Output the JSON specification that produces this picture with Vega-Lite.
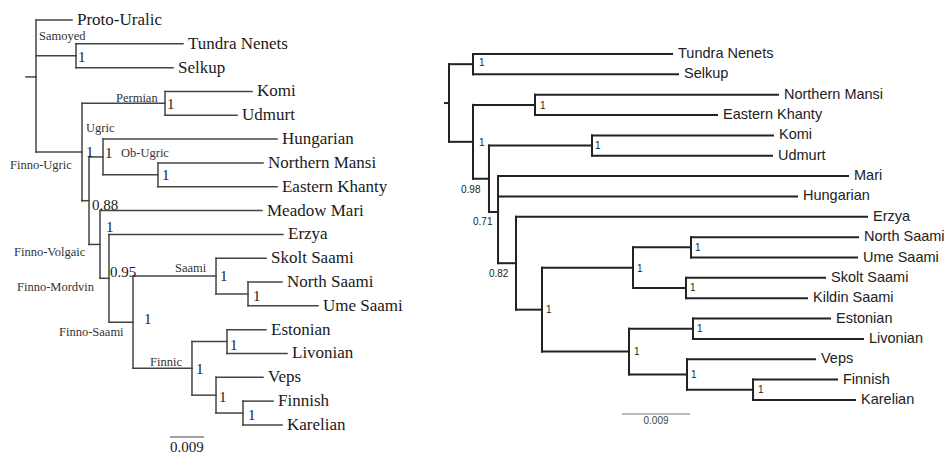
{
  "$schema": "https://vega.github.io/schema/vega-lite/v6.json",
  "autosize": {"type": "pad"},
  "padding": 0,
  "spacing": 0,
  "bounds": "flush",
  "background": "white",
  "config": {"view": {"stroke": null}},
  "resolve": {"scale": {"x": "independent", "y": "independent"}},
  "datasets": {
    "leftTree": [
      {"node": "root", "pd": -2.65, "d": 0, "i": 3.39, "lo": 1, "hi": 6.543},
      {"node": "Proto-Uralic", "pd": 0, "d": 9.53, "i": 1},
      {"node": "Samoyed", "pd": 0, "d": 10.59, "i": 2.5, "lo": 2, "hi": 3},
      {"node": "Tundra Nenets", "pd": 10.59, "d": 38.91, "i": 2},
      {"node": "Selkup", "pd": 10.59, "d": 36.26, "i": 3},
      {"node": "Finno-Ugric", "pd": 0, "d": 12.18, "i": 6.543, "lo": 4.5, "hi": 8.586},
      {"node": "Permian", "pd": 12.18, "d": 34.15, "i": 4.5, "lo": 4, "hi": 5},
      {"node": "Komi", "pd": 34.15, "d": 57.18, "i": 4},
      {"node": "Udmurt", "pd": 34.15, "d": 53.21, "i": 5},
      {"node": "Ugric and Finno-Volgaic", "pd": 12.18, "d": 14.03, "i": 8.586, "lo": 6.75, "hi": 10.422},
      {"node": "Ugric", "pd": 14.03, "d": 17.74, "i": 6.75, "lo": 6, "hi": 7.5},
      {"node": "Hungarian", "pd": 17.74, "d": 63.79, "i": 6},
      {"node": "Ob-Ugric", "pd": 17.74, "d": 32.29, "i": 7.5, "lo": 7, "hi": 8},
      {"node": "Northern Mansi", "pd": 32.29, "d": 60.09, "i": 7},
      {"node": "Eastern Khanty", "pd": 32.29, "d": 63.79, "i": 8},
      {"node": "Finno-Volgaic", "pd": 14.03, "d": 16.94, "i": 10.422, "lo": 9, "hi": 11.844},
      {"node": "Meadow Mari", "pd": 16.94, "d": 59.82, "i": 9},
      {"node": "Finno-Mordvin", "pd": 16.94, "d": 19.32, "i": 11.844, "lo": 10, "hi": 13.688},
      {"node": "Erzya", "pd": 19.32, "d": 65.38, "i": 10},
      {"node": "Finno-Saami", "pd": 19.32, "d": 25.68, "i": 13.688, "lo": 11.75, "hi": 15.625},
      {"node": "Saami", "pd": 25.68, "d": 47.65, "i": 11.75, "lo": 11, "hi": 12.5},
      {"node": "Skolt Saami", "pd": 47.65, "d": 60.88, "i": 11},
      {"node": "North and Ume Saami", "pd": 47.65, "d": 56.12, "i": 12.5, "lo": 12, "hi": 13},
      {"node": "North Saami", "pd": 56.12, "d": 65.12, "i": 12},
      {"node": "Ume Saami", "pd": 56.12, "d": 74.65, "i": 13},
      {"node": "Finnic", "pd": 25.68, "d": 41.29, "i": 15.625, "lo": 14.5, "hi": 16.75},
      {"node": "Estonian and Livonian", "pd": 41.29, "d": 50.56, "i": 14.5, "lo": 14, "hi": 15},
      {"node": "Estonian", "pd": 50.56, "d": 60.88, "i": 14},
      {"node": "Livonian", "pd": 50.56, "d": 66.44, "i": 15},
      {"node": "Veps, Finnish and Karelian", "pd": 41.29, "d": 47.65, "i": 16.75, "lo": 16, "hi": 17.5},
      {"node": "Veps", "pd": 47.65, "d": 60.09, "i": 16},
      {"node": "Finnish and Karelian", "pd": 47.65, "d": 54.79, "i": 17.5, "lo": 17, "hi": 18},
      {"node": "Finnish", "pd": 54.79, "d": 62.74, "i": 17},
      {"node": "Karelian", "pd": 54.79, "d": 65.12, "i": 18}
    ],
    "leftSupport": [
      {"p": "1", "d": 11.12, "i": 2.553},
      {"p": "1", "d": 34.68, "i": 4.526},
      {"p": "1", "d": 13.24, "i": 6.542},
      {"p": "1", "d": 18.26, "i": 6.584},
      {"p": "1", "d": 33.35, "i": 7.507},
      {"p": "0.88", "d": 14.82, "i": 8.767},
      {"p": "1", "d": 18.53, "i": 9.69},
      {"p": "0.95", "d": 19.59, "i": 11.579},
      {"p": "1", "d": 48.71, "i": 11.747},
      {"p": "1", "d": 57.44, "i": 12.587},
      {"p": "1", "d": 28.59, "i": 13.552},
      {"p": "1", "d": 51.35, "i": 14.644},
      {"p": "1", "d": 42.35, "i": 15.652},
      {"p": "1", "d": 48.44, "i": 16.827},
      {"p": "1", "d": 56.12, "i": 17.583}
    ],
    "leftClades": [
      {"clade": "Samoyed", "d": 0.79, "i": 1.672},
      {"clade": "Permian", "d": 21.18, "i": 4.275},
      {"clade": "Ugric", "d": 13.24, "i": 5.534},
      {"clade": "Ob-Ugric", "d": 22.5, "i": 6.584},
      {"clade": "Finno-Ugric", "d": -6.88, "i": 7.087},
      {"clade": "Finno-Volgaic", "d": -5.82, "i": 10.74},
      {"clade": "Finno-Mordvin", "d": -5.03, "i": 12.209},
      {"clade": "Saami", "d": 36.79, "i": 11.411},
      {"clade": "Finno-Saami", "d": 6.09, "i": 14.098},
      {"clade": "Finnic", "d": 30.18, "i": 15.358}
    ],
    "leftScale": [
      {"d": 35.47, "d2": 44.47, "dm": 39.97, "i": 18.506, "label": "0.009"}
    ],
    "rightTree": [
      {"node": "root", "pd": -0.53, "d": 0, "i": 3.41, "lo": 1.5, "hi": 5.316},
      {"node": "Samoyed", "pd": 0, "d": 3.18, "i": 1.5, "lo": 1, "hi": 2},
      {"node": "Tundra Nenets", "pd": 3.18, "d": 29.52, "i": 1},
      {"node": "Selkup", "pd": 3.18, "d": 30.31, "i": 2},
      {"node": "Finno-Ugric", "pd": 0, "d": 3.18, "i": 5.316, "lo": 3.5, "hi": 7.13},
      {"node": "Ob-Ugric", "pd": 3.18, "d": 11.38, "i": 3.5, "lo": 3, "hi": 4},
      {"node": "Northern Mansi", "pd": 11.38, "d": 43.54, "i": 3},
      {"node": "Eastern Khanty", "pd": 11.38, "d": 35.47, "i": 4},
      {"node": "Permian and western branches", "pd": 3.18, "d": 5.29, "i": 7.13, "lo": 5.5, "hi": 8.764},
      {"node": "Permian", "pd": 5.29, "d": 18.93, "i": 5.5, "lo": 5, "hi": 6},
      {"node": "Komi", "pd": 18.93, "d": 42.88, "i": 5},
      {"node": "Udmurt", "pd": 18.93, "d": 42.75, "i": 6},
      {"node": "Mari, Hungarian and western branches", "pd": 5.29, "d": 6.49, "i": 8.764, "lo": 7, "hi": 11.28},
      {"node": "Mari", "pd": 6.49, "d": 52.81, "i": 7},
      {"node": "Hungarian", "pd": 6.49, "d": 46.06, "i": 8},
      {"node": "Finno-Mordvin", "pd": 6.49, "d": 8.87, "i": 11.28, "lo": 9, "hi": 13.563},
      {"node": "Erzya", "pd": 8.87, "d": 55.32, "i": 9},
      {"node": "Finno-Saami", "pd": 8.87, "d": 12.31, "i": 13.563, "lo": 11.5, "hi": 15.625},
      {"node": "Saami", "pd": 12.31, "d": 24.35, "i": 11.5, "lo": 10.5, "hi": 12.5},
      {"node": "North and Ume Saami", "pd": 24.35, "d": 32.03, "i": 10.5, "lo": 10, "hi": 11},
      {"node": "North Saami", "pd": 32.03, "d": 54.13, "i": 10},
      {"node": "Ume Saami", "pd": 32.03, "d": 54.0, "i": 11},
      {"node": "Skolt and Kildin Saami", "pd": 24.35, "d": 31.37, "i": 12.5, "lo": 12, "hi": 13},
      {"node": "Skolt Saami", "pd": 31.37, "d": 49.77, "i": 12},
      {"node": "Kildin Saami", "pd": 31.37, "d": 47.38, "i": 13},
      {"node": "Finnic", "pd": 12.31, "d": 23.82, "i": 15.625, "lo": 14.5, "hi": 16.75},
      {"node": "Estonian and Livonian", "pd": 23.82, "d": 32.29, "i": 14.5, "lo": 14, "hi": 15},
      {"node": "Estonian", "pd": 32.29, "d": 50.43, "i": 14},
      {"node": "Livonian", "pd": 32.29, "d": 54.79, "i": 15},
      {"node": "Veps, Finnish and Karelian", "pd": 23.82, "d": 31.5, "i": 16.75, "lo": 16, "hi": 17.5},
      {"node": "Veps", "pd": 31.5, "d": 48.44, "i": 16},
      {"node": "Finnish and Karelian", "pd": 31.5, "d": 40.24, "i": 17.5, "lo": 17, "hi": 18},
      {"node": "Finnish", "pd": 40.24, "d": 51.35, "i": 17},
      {"node": "Karelian", "pd": 40.24, "d": 53.74, "i": 18}
    ],
    "rightSupport": [
      {"p": "1", "d": 3.97, "i": 1.442},
      {"p": "1", "d": 12.04, "i": 3.555},
      {"p": "1", "d": 3.97, "i": 5.373},
      {"p": "1", "d": 19.32, "i": 5.521},
      {"p": "0.98", "d": 1.59, "i": 7.683},
      {"p": "0.71", "d": 3.18, "i": 9.256},
      {"p": "0.82", "d": 5.29, "i": 11.811},
      {"p": "1", "d": 12.84, "i": 13.58},
      {"p": "1", "d": 24.88, "i": 11.565},
      {"p": "1", "d": 32.56, "i": 10.533},
      {"p": "1", "d": 31.9, "i": 12.499},
      {"p": "1", "d": 24.49, "i": 15.644},
      {"p": "1", "d": 32.82, "i": 14.514},
      {"p": "1", "d": 32.03, "i": 16.774},
      {"p": "1", "d": 40.9, "i": 17.511}
    ],
    "rightScale": [
      {"d": 22.9, "d2": 31.9, "dm": 27.4, "i": 18.69, "label": "0.009"}
    ]
  },
  "hconcat": [
    {
      "width": 440,
      "height": 455,
      "layer": [
        {
          "data": {"name": "leftTree"},
          "mark": {"type": "rule", "color": "#444444", "strokeWidth": 1.5, "strokeCap": "square"},
          "encoding": {
            "x": {"field": "pd", "type": "quantitative", "scale": {"domain": [-9.529, 106.94], "nice": false, "zero": false}, "axis": null},
            "x2": {"field": "d"},
            "y": {"field": "i", "type": "quantitative", "scale": {"domain": [0.1604, 19.262], "nice": false, "zero": false, "reverse": true}, "axis": null}
          }
        },
        {
          "data": {"name": "leftTree"},
          "transform": [{"filter": "isValid(datum.lo)"}],
          "mark": {"type": "rule", "color": "#444444", "strokeWidth": 1.5, "strokeCap": "square"},
          "encoding": {
            "x": {"field": "d", "type": "quantitative", "scale": {"domain": [-9.529, 106.94], "nice": false, "zero": false}, "axis": null},
            "y": {"field": "lo", "type": "quantitative", "scale": {"domain": [0.1604, 19.262], "nice": false, "zero": false, "reverse": true}, "axis": null},
            "y2": {"field": "hi"}
          }
        },
        {
          "data": {"name": "leftTree"},
          "transform": [{"filter": "!isValid(datum.lo)"}],
          "mark": {"type": "text", "align": "left", "baseline": "middle", "dx": 5, "font": "Liberation Serif", "fontSize": 17, "color": "#1a1a1a"},
          "encoding": {
            "x": {"field": "d", "type": "quantitative", "scale": {"domain": [-9.529, 106.94], "nice": false, "zero": false}, "axis": null},
            "y": {"field": "i", "type": "quantitative", "scale": {"domain": [0.1604, 19.262], "nice": false, "zero": false, "reverse": true}, "axis": null},
            "text": {"field": "node"}
          }
        },
        {
          "data": {"name": "leftSupport"},
          "mark": {"type": "text", "align": "left", "baseline": "middle", "font": "Liberation Serif", "fontSize": 15, "color": "#1a1a1a"},
          "encoding": {
            "x": {"field": "d", "type": "quantitative", "scale": {"domain": [-9.529, 106.94], "nice": false, "zero": false}, "axis": null},
            "y": {"field": "i", "type": "quantitative", "scale": {"domain": [0.1604, 19.262], "nice": false, "zero": false, "reverse": true}, "axis": null},
            "text": {"field": "p"}
          }
        },
        {
          "data": {"name": "leftClades"},
          "mark": {"type": "text", "align": "left", "baseline": "middle", "font": "Liberation Serif", "fontSize": 12.5, "color": "#333333"},
          "encoding": {
            "x": {"field": "d", "type": "quantitative", "scale": {"domain": [-9.529, 106.94], "nice": false, "zero": false}, "axis": null},
            "y": {"field": "i", "type": "quantitative", "scale": {"domain": [0.1604, 19.262], "nice": false, "zero": false, "reverse": true}, "axis": null},
            "text": {"field": "clade"}
          }
        },
        {
          "data": {"name": "leftScale"},
          "mark": {"type": "rule", "color": "#444444", "strokeWidth": 1},
          "encoding": {
            "x": {"field": "d", "type": "quantitative", "scale": {"domain": [-9.529, 106.94], "nice": false, "zero": false}, "axis": null},
            "x2": {"field": "d2"},
            "y": {"field": "i", "type": "quantitative", "scale": {"domain": [0.1604, 19.262], "nice": false, "zero": false, "reverse": true}, "axis": null}
          }
        },
        {
          "data": {"name": "leftScale"},
          "mark": {"type": "text", "align": "center", "baseline": "middle", "dy": 10, "font": "Liberation Serif", "fontSize": 15, "color": "#1a1a1a"},
          "encoding": {
            "x": {"field": "dm", "type": "quantitative", "scale": {"domain": [-9.529, 106.94], "nice": false, "zero": false}, "axis": null},
            "y": {"field": "i", "type": "quantitative", "scale": {"domain": [0.1604, 19.262], "nice": false, "zero": false, "reverse": true}, "axis": null},
            "text": {"field": "label"}
          }
        }
      ]
    },
    {
      "width": 511,
      "height": 455,
      "layer": [
        {
          "data": {"name": "rightTree"},
          "mark": {"type": "rule", "color": "#222222", "strokeWidth": 2, "strokeCap": "square"},
          "encoding": {
            "x": {"field": "pd", "type": "quantitative", "scale": {"domain": [-1.191, 66.441], "nice": false, "zero": false}, "axis": null},
            "x2": {"field": "d"},
            "y": {"field": "i", "type": "quantitative", "scale": {"domain": [-1.6536, 20.705], "nice": false, "zero": false, "reverse": true}, "axis": null}
          }
        },
        {
          "data": {"name": "rightTree"},
          "transform": [{"filter": "isValid(datum.lo)"}],
          "mark": {"type": "rule", "color": "#222222", "strokeWidth": 2, "strokeCap": "square"},
          "encoding": {
            "x": {"field": "d", "type": "quantitative", "scale": {"domain": [-1.191, 66.441], "nice": false, "zero": false}, "axis": null},
            "y": {"field": "lo", "type": "quantitative", "scale": {"domain": [-1.6536, 20.705], "nice": false, "zero": false, "reverse": true}, "axis": null},
            "y2": {"field": "hi"}
          }
        },
        {
          "data": {"name": "rightTree"},
          "transform": [{"filter": "!isValid(datum.lo)"}],
          "mark": {"type": "text", "align": "left", "baseline": "middle", "dx": 6, "font": "Liberation Sans", "fontSize": 14.5, "color": "#222222"},
          "encoding": {
            "x": {"field": "d", "type": "quantitative", "scale": {"domain": [-1.191, 66.441], "nice": false, "zero": false}, "axis": null},
            "y": {"field": "i", "type": "quantitative", "scale": {"domain": [-1.6536, 20.705], "nice": false, "zero": false, "reverse": true}, "axis": null},
            "text": {"field": "node"}
          }
        },
        {
          "data": {"name": "rightSupport"},
          "mark": {"type": "text", "align": "left", "baseline": "middle", "font": "Liberation Sans", "fontSize": 10, "color": "#222222"},
          "encoding": {
            "x": {"field": "d", "type": "quantitative", "scale": {"domain": [-1.191, 66.441], "nice": false, "zero": false}, "axis": null},
            "y": {"field": "i", "type": "quantitative", "scale": {"domain": [-1.6536, 20.705], "nice": false, "zero": false, "reverse": true}, "axis": null},
            "text": {"field": "p"}
          }
        },
        {
          "data": {"name": "rightScale"},
          "mark": {"type": "rule", "color": "#777777", "strokeWidth": 1},
          "encoding": {
            "x": {"field": "d", "type": "quantitative", "scale": {"domain": [-1.191, 66.441], "nice": false, "zero": false}, "axis": null},
            "x2": {"field": "d2"},
            "y": {"field": "i", "type": "quantitative", "scale": {"domain": [-1.6536, 20.705], "nice": false, "zero": false, "reverse": true}, "axis": null}
          }
        },
        {
          "data": {"name": "rightScale"},
          "mark": {"type": "text", "align": "center", "baseline": "middle", "dy": 7, "font": "Liberation Sans", "fontSize": 10, "color": "#444444"},
          "encoding": {
            "x": {"field": "dm", "type": "quantitative", "scale": {"domain": [-1.191, 66.441], "nice": false, "zero": false}, "axis": null},
            "y": {"field": "i", "type": "quantitative", "scale": {"domain": [-1.6536, 20.705], "nice": false, "zero": false, "reverse": true}, "axis": null},
            "text": {"field": "label"}
          }
        }
      ]
    }
  ]
}
